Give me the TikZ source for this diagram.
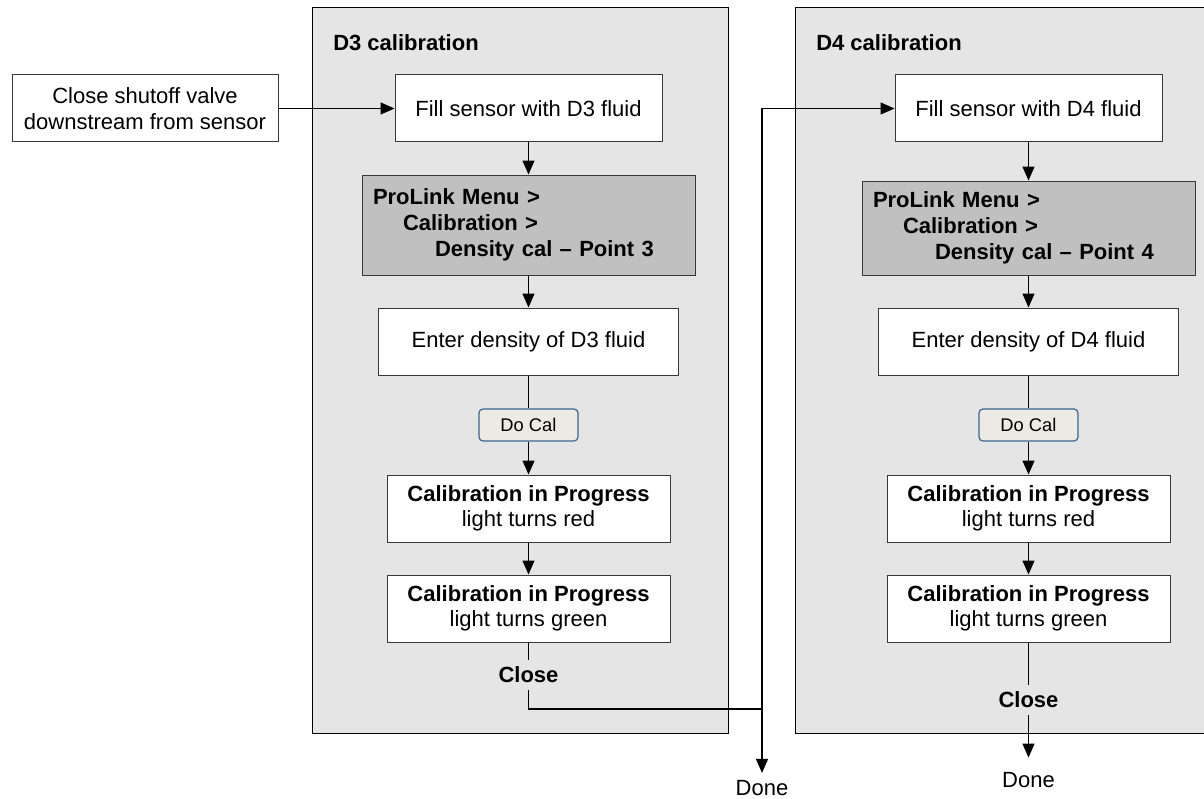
\documentclass[tikz,border=0pt]{standalone}
\usepackage{fontspec}
\setmainfont{Liberation Sans}
\usetikzlibrary{arrows.meta, positioning}
\definecolor{panelgrey}{HTML}{E5E5E5}
\definecolor{menugrey}{HTML}{C0C0C0}
\definecolor{buttonface}{HTML}{ECEAE3}
\definecolor{buttonedge}{HTML}{3A6690}
\definecolor{boxedge}{HTML}{383838}

\begin{document}
\begin{tikzpicture}[x=0.75pt, y=-0.75pt,
  font=\fontsize{16.5}{19}\selectfont,
  stepbox/.style={draw=boxedge, line width=0.75pt, fill=white, align=center,
    inner sep=0pt, minimum height=50.25pt},
  menubox/.style={draw=boxedge, line width=0.75pt, fill=menugrey, align=left,
    inner xsep=8.25pt, inner ysep=0pt, text width=233.25pt,
    font=\fontsize{16.5}{19.5}\selectfont\bfseries},
  calbutton/.style={draw=buttonedge, line width=0.9pt, fill=buttonface,
    rounded corners=3pt, minimum width=74.25pt, minimum height=24pt,
    inner sep=0pt, font=\fontsize{13.75}{16}\selectfont},
  paneltitle/.style={anchor=west, inner sep=0pt, font=\fontsize{16.5}{19}\selectfont\bfseries},
  closelabel/.style={inner sep=5.25pt, font=\fontsize{16.5}{19}\selectfont\bfseries},
  donelabel/.style={anchor=base, inner sep=0pt},
  flow/.style={line width=1pt, -{Triangle[length=10.5pt,width=9pt]}},
  plain/.style={line width=1pt}]

  % Page frame
  \useasboundingbox (0,0) rectangle (1204,799);

  % Panel backgrounds
  \filldraw[fill=panelgrey, draw=black, line width=0.75pt] (312,8) rectangle (728,733);
  \filldraw[fill=panelgrey, draw=black, line width=0.75pt] (795,8) rectangle (1212,733);
  \node[paneltitle] (title3) at (333,43) {D3 calibration};
  \node[paneltitle] (title4) at (816,43) {D4 calibration};

  % Starting step
  \node[stepbox, minimum width=199.5pt] (shutoff) at (145,108.5)
    {Close shutoff valve\\downstream from sensor};

  % D3 steps
  \node[stepbox, minimum width=200.25pt] (fill3) at (528.5,108.5) {Fill sensor with D3 fluid};
  \node[menubox, minimum height=75pt] (menu3) at (528.5,225)
    {ProLink Menu >\\\hspace*{22.5pt}Calibration >\\\hspace*{46.5pt}Density cal – Point 3};
  \node[stepbox, minimum width=225pt] (enter3) at (528.5,341.5) {Enter density of D3 fluid};
  \node[calbutton] (docal3) at (528.5,425) {Do Cal};
  \node[stepbox, minimum width=212.25pt] (red3) at (528.5,508.5)
    {\textbf{Calibration in Progress}\\light turns red};
  \node[stepbox, minimum width=212.25pt] (green3) at (528.5,608.5)
    {\textbf{Calibration in Progress}\\light turns green};
  \node[closelabel] (close3) at (528.5,675) {Close};
  \node[donelabel] (done3) at (762,795) {Done};

  % D4 steps
  \node[stepbox, minimum width=200.25pt] (fill4) at (1028.5,108.5) {Fill sensor with D4 fluid};
  \node[menubox, minimum height=70.5pt] (menu4) at (1028.5,228)
    {ProLink Menu >\\\hspace*{22.5pt}Calibration >\\\hspace*{46.5pt}Density cal – Point 4};
  \node[stepbox, minimum width=225pt] (enter4) at (1028.5,341.5) {Enter density of D4 fluid};
  \node[calbutton] (docal4) at (1028.5,425) {Do Cal};
  \node[stepbox, minimum width=212.25pt] (red4) at (1028.5,508.5)
    {\textbf{Calibration in Progress}\\light turns red};
  \node[stepbox, minimum width=212.25pt] (green4) at (1028.5,608.5)
    {\textbf{Calibration in Progress}\\light turns green};
  \node[closelabel] (close4) at (1028.5,700) {Close};
  \node[donelabel] (done4) at (1028.5,787) {Done};

  % Connectors - D3
  \draw[flow] (shutoff.east) -- (fill3.west);
  \draw[flow] (fill3) -- (menu3);
  \draw[flow] (menu3) -- (enter3);
  \draw[plain] (enter3) -- (docal3);
  \draw[flow] (docal3) -- (red3);
  \draw[flow] (red3) -- (green3);
  \draw[plain] (green3) -- (close3);

  % Close leads on to D4 or to Done
  \coordinate (split) at (762,709);
  \draw[plain] (close3.south) |- (split);
  \draw[line width=1pt, {Triangle[length=10.5pt,width=9pt]}-{Triangle[length=10.5pt,width=9pt]},
    shorten <=5pt] (done3.north) |- (fill4.west);

  % Connectors - D4
  \draw[flow] (fill4) -- (menu4);
  \draw[flow] (menu4) -- (enter4);
  \draw[plain] (enter4) -- (docal4);
  \draw[flow] (docal4) -- (red4);
  \draw[flow] (red4) -- (green4);
  \draw[plain] (green4) -- (close4);
  \draw[flow, shorten >=10.5pt] (close4) -- (done4.north);
\end{tikzpicture}
\end{document}
